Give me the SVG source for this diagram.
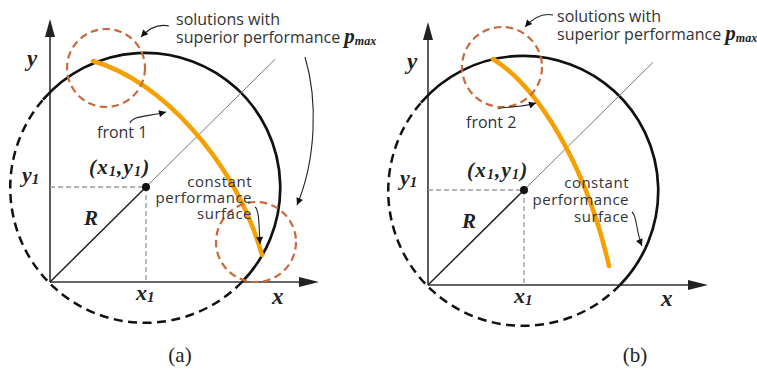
<svg xmlns="http://www.w3.org/2000/svg" width="757" height="369" viewBox="0 0 757 369">
<style>
.lbl{font-family:"Open Sans","Liberation Sans",sans-serif;font-size:16px;fill:#333}
.lbs{font-family:"Open Sans","Liberation Sans",sans-serif;font-size:15px;letter-spacing:0.5px;fill:#333}
.m{font-family:"Liberation Serif","Times New Roman",serif;font-weight:bold;font-style:italic;fill:#222}
.cap{font-family:"Liberation Serif","Times New Roman",serif;font-size:21px;fill:#222}
.axis{stroke:#333;stroke-width:1.6;fill:none}
.ahead{fill:#222}
.solid{stroke:#111;stroke-width:2.7;fill:none}
.dash{stroke:#111;stroke-width:2.5;fill:none;stroke-dasharray:9 5.5}
.guide{stroke:#999;stroke-width:1.3;fill:none;stroke-dasharray:5 3}
.rline{stroke:#222;stroke-width:1.5}
.thin{stroke:#777;stroke-width:1}
.front{stroke:#F6A000;stroke-width:4.5;fill:none;stroke-linecap:round}
.region{stroke:#C96A3C;stroke-width:2.2;fill:none;stroke-dasharray:7.5 4.5}
.ann{stroke:#222;stroke-width:1.1;fill:none;marker-end:url(#arr)}
</style>
<defs>
<marker id="arr" viewBox="0 0 10 10" refX="10" refY="5" markerWidth="10" markerHeight="7" markerUnits="userSpaceOnUse" orient="auto">
<path d="M0,0 L10,5 L0,10 z" fill="#111"/>
</marker>
</defs>
<rect width="757" height="369" fill="#fff"/>

<!-- Panel (a) -->
<g id="panel-a">
  <g id="a-axes">
    <line class="axis" x1="50" y1="282" x2="50" y2="34"/>
    <polygon class="ahead" points="50,19 45,37 55,37"/>
    <line class="axis" x1="50" y1="282" x2="302" y2="282"/>
    <polygon class="ahead" points="319,282 299,277 299,287"/>
  </g>
  <g id="a-circle">
    <path class="solid" d="M43,99.7 A135,135 0 1,1 242,282"/>
    <path class="dash" d="M242,282 A135,135 0 0,1 43,99.7"/>
  </g>
  <g id="a-guides">
    <line class="guide" x1="50" y1="187" x2="146" y2="187"/>
    <line class="guide" x1="146" y1="187" x2="146" y2="282"/>
    <line class="thin" x1="146" y1="187" x2="275" y2="59.3"/>
    <line class="rline" x1="50" y1="282" x2="146" y2="187"/>
    <circle cx="146" cy="187" r="4" fill="#111"/>
  </g>
  <g id="a-front1">
    <path class="front" d="M93,61 C160,80 235,160 262,255"/>
  </g>
  <g id="a-region-top"><circle class="region" cx="106" cy="68" r="39"/></g>
  <g id="a-region-bottom"><circle class="region" cx="256" cy="242" r="40"/></g>
  <g id="a-labels">
    <text class="m" x="27" y="66" font-size="23">y</text>
    <text class="m" x="22" y="182" font-size="22">y<tspan font-size="15" dy="2">1</tspan></text>
    <text class="m" x="84" y="225" font-size="21">R</text>
    <text class="m" x="136" y="300" font-size="22">x<tspan font-size="15" dy="2">1</tspan></text>
    <text class="m" x="272" y="304" font-size="23">x</text>
    <text class="m" x="89" y="174" font-size="21" letter-spacing="1.2">(x<tspan font-size="14" dy="2">1</tspan><tspan dy="-2">,y</tspan><tspan font-size="14" dy="2">1</tspan><tspan dy="-2">)</tspan></text>
    <text class="lbl" x="97" y="138">front 1</text>
    <text class="lbs" x="252" y="187" text-anchor="end">constant</text>
    <text class="lbs" x="252" y="203" text-anchor="end">performance</text>
    <text class="lbs" x="252" y="219" text-anchor="end">surface</text>
    <text class="lbl" x="176" y="25">solutions with</text>
    <text class="lbl" x="176" y="43">superior performance <tspan class="m" font-size="21">p</tspan><tspan class="m" font-size="12" dy="2">max</tspan></text>
  </g>
  <g id="a-connectors">
    <path class="ann" d="M169,26 C160,24 150,27 141,37"/>
    <path class="ann" d="M305,57 C318,100 316,160 297,205"/>
    <path class="ann" d="M130,123 C133,116 145,117 166,112"/>
    <path class="ann" d="M255,207 C259,209 259,225 260,244"/>
  </g>
</g>

<!-- Panel (b) -->
<g id="panel-b" transform="translate(378,3)">
  <g id="b-axes">
    <line class="axis" x1="50" y1="282" x2="50" y2="34"/>
    <polygon class="ahead" points="50,19 45,37 55,37"/>
    <line class="axis" x1="50" y1="282" x2="313" y2="282"/>
    <polygon class="ahead" points="330,282 310,277 310,287"/>
  </g>
  <g id="b-circle">
    <path class="solid" d="M43,99.7 A135,135 0 1,1 242,282"/>
    <path class="dash" d="M242,282 A135,135 0 0,1 43,99.7"/>
  </g>
  <g id="b-guides">
    <line class="guide" x1="50" y1="187" x2="146" y2="187"/>
    <line class="guide" x1="146" y1="187" x2="146" y2="282"/>
    <line class="thin" x1="146" y1="187" x2="275" y2="59.3"/>
    <line class="rline" x1="50" y1="282" x2="146" y2="187"/>
    <circle cx="146" cy="187" r="4" fill="#111"/>
  </g>
  <g id="b-front2">
    <path class="front" d="M115,56 C157,82 207,157 231,263"/>
  </g>
  <g id="b-region-top"><circle class="region" cx="124" cy="64" r="40"/></g>
  <g id="b-labels">
    <text class="m" x="29" y="66" font-size="23">y</text>
    <text class="m" x="22" y="182" font-size="22">y<tspan font-size="15" dy="2">1</tspan></text>
    <text class="m" x="84" y="225" font-size="21">R</text>
    <text class="m" x="136" y="300" font-size="22">x<tspan font-size="15" dy="2">1</tspan></text>
    <text class="m" x="283" y="303" font-size="23">x</text>
    <text class="m" x="89" y="174" font-size="21" letter-spacing="1.2">(x<tspan font-size="14" dy="2">1</tspan><tspan dy="-2">,y</tspan><tspan font-size="14" dy="2">1</tspan><tspan dy="-2">)</tspan></text>
    <text class="lbl" x="88" y="125">front 2</text>
    <text class="lbs" x="251" y="185" text-anchor="end">constant</text>
    <text class="lbs" x="251" y="202" text-anchor="end">performance</text>
    <text class="lbs" x="251" y="219" text-anchor="end">surface</text>
    <text class="lbl" x="179" y="19">solutions with</text>
    <text class="lbl" x="179" y="37">superior performance <tspan class="m" font-size="21">p</tspan><tspan class="m" font-size="12" dy="2">max</tspan></text>
  </g>
  <g id="b-connectors">
    <path class="ann" d="M175,12 C165,10 155,15 147,24"/>
    <path class="ann" d="M120,106 C127,103 142,105 158,100"/>
    <path class="ann" d="M254,209 C259,212 258,229 264,243"/>
  </g>
</g>

<text class="cap" x="180" y="362" text-anchor="middle">(a)</text>
<text class="cap" x="635" y="362" text-anchor="middle">(b)</text>
</svg>
